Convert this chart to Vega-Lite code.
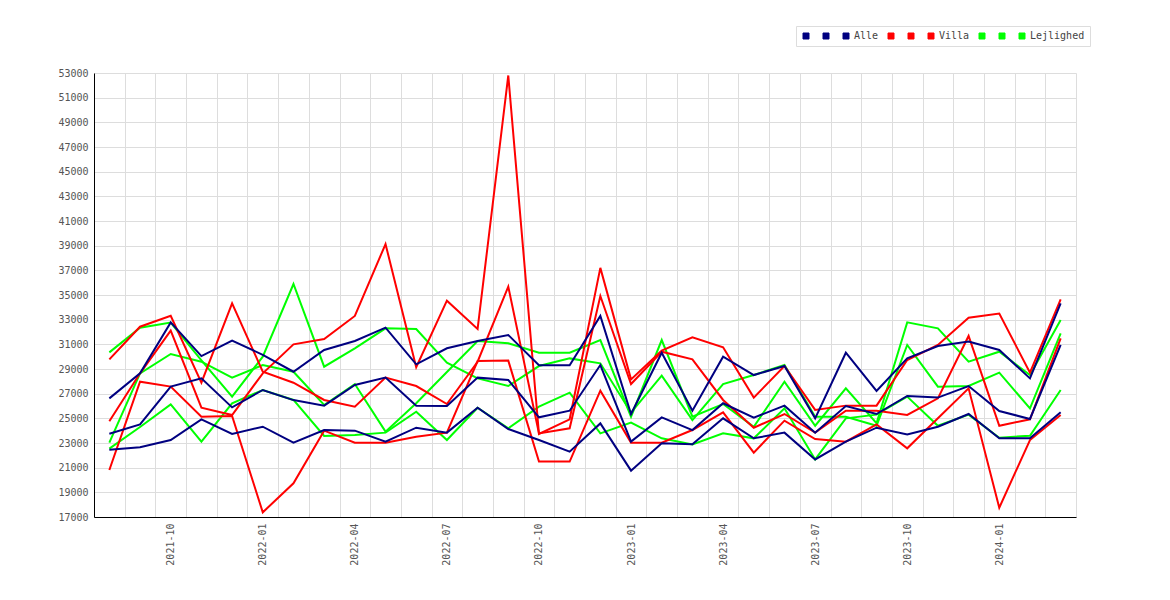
{
  "$schema": "https://vega.github.io/schema/vega-lite/v6.json",
  "autosize": "none",
  "width": 982,
  "height": 444,
  "padding": {"left": 94, "top": 73, "right": 94, "bottom": 83},
  "background": "white",
  "data": {"values": [
    {"m":"2021-08","s":"Lejlighed_a","v":30350},{"m":"2021-09","s":"Lejlighed_a","v":32350},{"m":"2021-10","s":"Lejlighed_a","v":32760},{"m":"2021-11","s":"Lejlighed_a","v":29700},{"m":"2021-12","s":"Lejlighed_a","v":26760},{"m":"2022-01","s":"Lejlighed_a","v":30000},{"m":"2022-02","s":"Lejlighed_a","v":35890},{"m":"2022-03","s":"Lejlighed_a","v":29190},{"m":"2022-04","s":"Lejlighed_a","v":30680},{"m":"2022-05","s":"Lejlighed_a","v":32300},{"m":"2022-06","s":"Lejlighed_a","v":32240},{"m":"2022-07","s":"Lejlighed_a","v":29510},{"m":"2022-08","s":"Lejlighed_a","v":28240},{"m":"2022-09","s":"Lejlighed_a","v":27620},{"m":"2022-10","s":"Lejlighed_a","v":29240},{"m":"2022-11","s":"Lejlighed_a","v":29860},{"m":"2022-12","s":"Lejlighed_a","v":29460},{"m":"2023-01","s":"Lejlighed_a","v":25460},{"m":"2023-02","s":"Lejlighed_a","v":28460},{"m":"2023-03","s":"Lejlighed_a","v":24860},{"m":"2023-04","s":"Lejlighed_a","v":27780},{"m":"2023-05","s":"Lejlighed_a","v":28510},{"m":"2023-06","s":"Lejlighed_a","v":29320},{"m":"2023-07","s":"Lejlighed_a","v":25130},{"m":"2023-08","s":"Lejlighed_a","v":25130},{"m":"2023-09","s":"Lejlighed_a","v":24400},{"m":"2023-10","s":"Lejlighed_a","v":30950},{"m":"2023-11","s":"Lejlighed_a","v":27570},{"m":"2023-12","s":"Lejlighed_a","v":27620},{"m":"2024-01","s":"Lejlighed_a","v":28700},{"m":"2024-02","s":"Lejlighed_a","v":25810},{"m":"2024-03","s":"Lejlighed_a","v":31890},
    {"m":"2021-08","s":"Lejlighed_b","v":23030},{"m":"2021-09","s":"Lejlighed_b","v":28650},{"m":"2021-10","s":"Lejlighed_b","v":30220},{"m":"2021-11","s":"Lejlighed_b","v":29590},{"m":"2021-12","s":"Lejlighed_b","v":28300},{"m":"2022-01","s":"Lejlighed_b","v":29320},{"m":"2022-02","s":"Lejlighed_b","v":28780},{"m":"2022-03","s":"Lejlighed_b","v":26080},{"m":"2022-04","s":"Lejlighed_b","v":27780},{"m":"2022-05","s":"Lejlighed_b","v":23920},{"m":"2022-06","s":"Lejlighed_b","v":26220},{"m":"2022-07","s":"Lejlighed_b","v":28760},{"m":"2022-08","s":"Lejlighed_b","v":31270},{"m":"2022-09","s":"Lejlighed_b","v":31080},{"m":"2022-10","s":"Lejlighed_b","v":30320},{"m":"2022-11","s":"Lejlighed_b","v":30320},{"m":"2022-12","s":"Lejlighed_b","v":31350},{"m":"2023-01","s":"Lejlighed_b","v":25130},{"m":"2023-02","s":"Lejlighed_b","v":31350},{"m":"2023-03","s":"Lejlighed_b","v":25130},{"m":"2023-04","s":"Lejlighed_b","v":26160},{"m":"2023-05","s":"Lejlighed_b","v":24320},{"m":"2023-06","s":"Lejlighed_b","v":27970},{"m":"2023-07","s":"Lejlighed_b","v":24400},{"m":"2023-08","s":"Lejlighed_b","v":27430},{"m":"2023-09","s":"Lejlighed_b","v":24600},{"m":"2023-10","s":"Lejlighed_b","v":32780},{"m":"2023-11","s":"Lejlighed_b","v":32300},{"m":"2023-12","s":"Lejlighed_b","v":29590},{"m":"2024-01","s":"Lejlighed_b","v":30400},{"m":"2024-02","s":"Lejlighed_b","v":28510},{"m":"2024-03","s":"Lejlighed_b","v":32970},
    {"m":"2021-08","s":"Lejlighed","v":22540},{"m":"2021-09","s":"Lejlighed","v":24300},{"m":"2021-10","s":"Lejlighed","v":26130},{"m":"2021-11","s":"Lejlighed","v":23110},{"m":"2021-12","s":"Lejlighed","v":26220},{"m":"2022-01","s":"Lejlighed","v":27300},{"m":"2022-02","s":"Lejlighed","v":26490},{"m":"2022-03","s":"Lejlighed","v":23570},{"m":"2022-04","s":"Lejlighed","v":23650},{"m":"2022-05","s":"Lejlighed","v":23840},{"m":"2022-06","s":"Lejlighed","v":25540},{"m":"2022-07","s":"Lejlighed","v":23240},{"m":"2022-08","s":"Lejlighed","v":25860},{"m":"2022-09","s":"Lejlighed","v":24190},{"m":"2022-10","s":"Lejlighed","v":25950},{"m":"2022-11","s":"Lejlighed","v":27080},{"m":"2022-12","s":"Lejlighed","v":23780},{"m":"2023-01","s":"Lejlighed","v":24650},{"m":"2023-02","s":"Lejlighed","v":23380},{"m":"2023-03","s":"Lejlighed","v":22890},{"m":"2023-04","s":"Lejlighed","v":23780},{"m":"2023-05","s":"Lejlighed","v":23380},{"m":"2023-06","s":"Lejlighed","v":25810},{"m":"2023-07","s":"Lejlighed","v":21670},{"m":"2023-08","s":"Lejlighed","v":25000},{"m":"2023-09","s":"Lejlighed","v":25300},{"m":"2023-10","s":"Lejlighed","v":26760},{"m":"2023-11","s":"Lejlighed","v":24400},{"m":"2023-12","s":"Lejlighed","v":25300},{"m":"2024-01","s":"Lejlighed","v":23430},{"m":"2024-02","s":"Lejlighed","v":23590},{"m":"2024-03","s":"Lejlighed","v":27300},
    {"m":"2021-08","s":"Villa_a","v":29780},{"m":"2021-09","s":"Villa_a","v":32430},{"m":"2021-10","s":"Villa_a","v":33320},{"m":"2021-11","s":"Villa_a","v":27890},{"m":"2021-12","s":"Villa_a","v":34320},{"m":"2022-01","s":"Villa_a","v":28780},{"m":"2022-02","s":"Villa_a","v":27890},{"m":"2022-03","s":"Villa_a","v":26490},{"m":"2022-04","s":"Villa_a","v":25950},{"m":"2022-05","s":"Villa_a","v":28300},{"m":"2022-06","s":"Villa_a","v":27620},{"m":"2022-07","s":"Villa_a","v":26160},{"m":"2022-08","s":"Villa_a","v":29590},{"m":"2022-09","s":"Villa_a","v":35680},{"m":"2022-10","s":"Villa_a","v":23780},{"m":"2022-11","s":"Villa_a","v":24190},{"m":"2022-12","s":"Villa_a","v":34920},{"m":"2023-01","s":"Villa_a","v":27780},{"m":"2023-02","s":"Villa_a","v":30400},{"m":"2023-03","s":"Villa_a","v":29780},{"m":"2023-04","s":"Villa_a","v":26490},{"m":"2023-05","s":"Villa_a","v":24240},{"m":"2023-06","s":"Villa_a","v":25350},{"m":"2023-07","s":"Villa_a","v":23840},{"m":"2023-08","s":"Villa_a","v":25620},{"m":"2023-09","s":"Villa_a","v":25620},{"m":"2023-10","s":"Villa_a","v":25270},{"m":"2023-11","s":"Villa_a","v":26620},{"m":"2023-12","s":"Villa_a","v":31680},{"m":"2024-01","s":"Villa_a","v":24400},{"m":"2024-02","s":"Villa_a","v":24920},{"m":"2024-03","s":"Villa_a","v":31490},
    {"m":"2021-08","s":"Villa_b","v":24760},{"m":"2021-09","s":"Villa_b","v":28650},{"m":"2021-10","s":"Villa_b","v":32110},{"m":"2021-11","s":"Villa_b","v":25860},{"m":"2021-12","s":"Villa_b","v":25270},{"m":"2022-01","s":"Villa_b","v":28650},{"m":"2022-02","s":"Villa_b","v":31000},{"m":"2022-03","s":"Villa_b","v":31430},{"m":"2022-04","s":"Villa_b","v":33300},{"m":"2022-05","s":"Villa_b","v":39130},{"m":"2022-06","s":"Villa_b","v":29140},{"m":"2022-07","s":"Villa_b","v":34540},{"m":"2022-08","s":"Villa_b","v":32240},{"m":"2022-09","s":"Villa_b","v":52800},{"m":"2022-10","s":"Villa_b","v":23730},{"m":"2022-11","s":"Villa_b","v":24920},{"m":"2022-12","s":"Villa_b","v":37200},{"m":"2023-01","s":"Villa_b","v":28160},{"m":"2023-02","s":"Villa_b","v":30490},{"m":"2023-03","s":"Villa_b","v":31570},{"m":"2023-04","s":"Villa_b","v":30760},{"m":"2023-05","s":"Villa_b","v":26680},{"m":"2023-06","s":"Villa_b","v":29240},{"m":"2023-07","s":"Villa_b","v":25680},{"m":"2023-08","s":"Villa_b","v":26030},{"m":"2023-09","s":"Villa_b","v":26030},{"m":"2023-10","s":"Villa_b","v":29730},{"m":"2023-11","s":"Villa_b","v":30950},{"m":"2023-12","s":"Villa_b","v":33160},{"m":"2024-01","s":"Villa_b","v":33490},{"m":"2024-02","s":"Villa_b","v":28700},{"m":"2024-03","s":"Villa_b","v":34650},
    {"m":"2021-08","s":"Villa","v":20810},{"m":"2021-09","s":"Villa","v":27970},{"m":"2021-10","s":"Villa","v":27570},{"m":"2021-11","s":"Villa","v":25130},{"m":"2021-12","s":"Villa","v":25190},{"m":"2022-01","s":"Villa","v":17380},{"m":"2022-02","s":"Villa","v":19730},{"m":"2022-03","s":"Villa","v":24000},{"m":"2022-04","s":"Villa","v":23030},{"m":"2022-05","s":"Villa","v":23030},{"m":"2022-06","s":"Villa","v":23510},{"m":"2022-07","s":"Villa","v":23840},{"m":"2022-08","s":"Villa","v":29650},{"m":"2022-09","s":"Villa","v":29680},{"m":"2022-10","s":"Villa","v":21490},{"m":"2022-11","s":"Villa","v":21490},{"m":"2022-12","s":"Villa","v":27240},{"m":"2023-01","s":"Villa","v":23030},{"m":"2023-02","s":"Villa","v":23030},{"m":"2023-03","s":"Villa","v":24050},{"m":"2023-04","s":"Villa","v":25490},{"m":"2023-05","s":"Villa","v":22220},{"m":"2023-06","s":"Villa","v":24810},{"m":"2023-07","s":"Villa","v":23320},{"m":"2023-08","s":"Villa","v":23110},{"m":"2023-09","s":"Villa","v":24510},{"m":"2023-10","s":"Villa","v":22570},{"m":"2023-11","s":"Villa","v":25000},{"m":"2023-12","s":"Villa","v":27430},{"m":"2024-01","s":"Villa","v":17750},{"m":"2024-02","s":"Villa","v":23240},{"m":"2024-03","s":"Villa","v":25270},
    {"m":"2021-08","s":"Alle_a","v":26620},{"m":"2021-09","s":"Alle_a","v":28650},{"m":"2021-10","s":"Alle_a","v":32780},{"m":"2021-11","s":"Alle_a","v":30050},{"m":"2021-12","s":"Alle_a","v":31300},{"m":"2022-01","s":"Alle_a","v":30150},{"m":"2022-02","s":"Alle_a","v":28780},{"m":"2022-03","s":"Alle_a","v":30540},{"m":"2022-04","s":"Alle_a","v":31270},{"m":"2022-05","s":"Alle_a","v":32350},{"m":"2022-06","s":"Alle_a","v":29380},{"m":"2022-07","s":"Alle_a","v":30680},{"m":"2022-08","s":"Alle_a","v":31270},{"m":"2022-09","s":"Alle_a","v":31760},{"m":"2022-10","s":"Alle_a","v":29300},{"m":"2022-11","s":"Alle_a","v":29300},{"m":"2022-12","s":"Alle_a","v":33300},{"m":"2023-01","s":"Alle_a","v":25350},{"m":"2023-02","s":"Alle_a","v":30320},{"m":"2023-03","s":"Alle_a","v":25620},{"m":"2023-04","s":"Alle_a","v":30000},{"m":"2023-05","s":"Alle_a","v":28510},{"m":"2023-06","s":"Alle_a","v":29240},{"m":"2023-07","s":"Alle_a","v":25000},{"m":"2023-08","s":"Alle_a","v":30320},{"m":"2023-09","s":"Alle_a","v":27220},{"m":"2023-10","s":"Alle_a","v":29860},{"m":"2023-11","s":"Alle_a","v":30860},{"m":"2023-12","s":"Alle_a","v":31220},{"m":"2024-01","s":"Alle_a","v":30540},{"m":"2024-02","s":"Alle_a","v":28240},{"m":"2024-03","s":"Alle_a","v":34320},
    {"m":"2021-08","s":"Alle_b","v":23750},{"m":"2021-09","s":"Alle_b","v":24510},{"m":"2021-10","s":"Alle_b","v":27570},{"m":"2021-11","s":"Alle_b","v":28240},{"m":"2021-12","s":"Alle_b","v":25890},{"m":"2022-01","s":"Alle_b","v":27300},{"m":"2022-02","s":"Alle_b","v":26480},{"m":"2022-03","s":"Alle_b","v":26030},{"m":"2022-04","s":"Alle_b","v":27700},{"m":"2022-05","s":"Alle_b","v":28300},{"m":"2022-06","s":"Alle_b","v":26030},{"m":"2022-07","s":"Alle_b","v":26000},{"m":"2022-08","s":"Alle_b","v":28300},{"m":"2022-09","s":"Alle_b","v":28110},{"m":"2022-10","s":"Alle_b","v":25080},{"m":"2022-11","s":"Alle_b","v":25620},{"m":"2022-12","s":"Alle_b","v":29320},{"m":"2023-01","s":"Alle_b","v":23110},{"m":"2023-02","s":"Alle_b","v":25080},{"m":"2023-03","s":"Alle_b","v":24050},{"m":"2023-04","s":"Alle_b","v":26220},{"m":"2023-05","s":"Alle_b","v":25050},{"m":"2023-06","s":"Alle_b","v":26030},{"m":"2023-07","s":"Alle_b","v":23840},{"m":"2023-08","s":"Alle_b","v":26000},{"m":"2023-09","s":"Alle_b","v":25350},{"m":"2023-10","s":"Alle_b","v":26810},{"m":"2023-11","s":"Alle_b","v":26680},{"m":"2023-12","s":"Alle_b","v":27620},{"m":"2024-01","s":"Alle_b","v":25590},{"m":"2024-02","s":"Alle_b","v":24950},{"m":"2024-03","s":"Alle_b","v":30950},
    {"m":"2021-08","s":"Alle","v":22460},{"m":"2021-09","s":"Alle","v":22650},{"m":"2021-10","s":"Alle","v":23240},{"m":"2021-11","s":"Alle","v":24920},{"m":"2021-12","s":"Alle","v":23730},{"m":"2022-01","s":"Alle","v":24320},{"m":"2022-02","s":"Alle","v":23030},{"m":"2022-03","s":"Alle","v":24050},{"m":"2022-04","s":"Alle","v":24000},{"m":"2022-05","s":"Alle","v":23110},{"m":"2022-06","s":"Alle","v":24240},{"m":"2022-07","s":"Alle","v":23840},{"m":"2022-08","s":"Alle","v":25860},{"m":"2022-09","s":"Alle","v":24130},{"m":"2022-10","s":"Alle","v":23240},{"m":"2022-11","s":"Alle","v":22300},{"m":"2022-12","s":"Alle","v":24590},{"m":"2023-01","s":"Alle","v":20760},{"m":"2023-02","s":"Alle","v":22970},{"m":"2023-03","s":"Alle","v":22890},{"m":"2023-04","s":"Alle","v":25000},{"m":"2023-05","s":"Alle","v":23380},{"m":"2023-06","s":"Alle","v":23840},{"m":"2023-07","s":"Alle","v":21670},{"m":"2023-08","s":"Alle","v":23110},{"m":"2023-09","s":"Alle","v":24240},{"m":"2023-10","s":"Alle","v":23700},{"m":"2023-11","s":"Alle","v":24320},{"m":"2023-12","s":"Alle","v":25350},{"m":"2024-01","s":"Alle","v":23380},{"m":"2024-02","s":"Alle","v":23380},{"m":"2024-03","s":"Alle","v":25490}
  ]},
  "mark": {"type": "line", "strokeWidth": 2, "strokeJoin": "miter"},
  "encoding": {
    "x": {
      "field": "m",
      "type": "ordinal",
      "bandPosition": 0.5,
      "scale": {"type": "band", "paddingInner": 0, "paddingOuter": 0},
      "axis": {
        "title": null,
        "tickBand": "extent",
        "ticks": false,
        "grid": true,
        "gridColor": "#dddddd",
        "domainColor": "#000000",
        "labelAngle": -90,
        "labelAlign": "right",
        "labelBaseline": "middle",
        "labelPadding": 6,
        "labelOverlap": false,
        "labelFont": "DejaVu Sans Mono",
        "labelFontSize": 10,
        "labelColor": "#555555",
        "labelExpr": "indexof(['01','04','07','10'], substring(datum.value, 5, 7)) >= 0 ? datum.value : ''"
      }
    },
    "y": {
      "field": "v",
      "type": "quantitative",
      "scale": {"domain": [17000, 53000], "nice": false, "zero": false},
      "axis": {
        "title": null,
        "values": [17000, 19000, 21000, 23000, 25000, 27000, 29000, 31000, 33000, 35000, 37000, 39000, 41000, 43000, 45000, 47000, 49000, 51000, 53000],
        "format": "d",
        "ticks": false,
        "grid": true,
        "gridColor": "#dddddd",
        "domainColor": "#000000",
        "labelPadding": 6,
        "labelFont": "DejaVu Sans Mono",
        "labelFontSize": 10,
        "labelColor": "#555555"
      }
    },
    "color": {
      "field": "s",
      "type": "nominal",
      "scale": {
        "domain": ["Alle_a", "Alle_b", "Alle", "Villa_a", "Villa_b", "Villa", "Lejlighed_a", "Lejlighed_b", "Lejlighed"],
        "range": ["#000080", "#000080", "#000080", "#ff0000", "#ff0000", "#ff0000", "#00ff00", "#00ff00", "#00ff00"]
      },
      "legend": {
        "title": null,
        "orient": "none",
        "legendX": 702,
        "legendY": -47,
        "direction": "horizontal",
        "columns": 9,
        "symbolType": "square",
        "symbolSize": 36,
        "labelOffset": 3,
        "columnPadding": 7,
        "padding": 5,
        "strokeColor": "#dddddd",
        "fillColor": "#ffffff",
        "labelFont": "DejaVu Sans Mono",
        "labelFontSize": 10,
        "labelColor": "#444444",
        "labelExpr": "indexof(datum.value, '_') > 0 ? ' ' : datum.value",
        "encode": {
          "symbols": {
            "update": {
              "fill": {"scale": "color", "field": "value"},
              "stroke": {"value": "#333333"},
              "strokeWidth": {"value": 1},
              "opacity": {"value": 1}
            }
          }
        }
      }
    }
  },
  "config": {
    "view": {"stroke": null}
  }
}
